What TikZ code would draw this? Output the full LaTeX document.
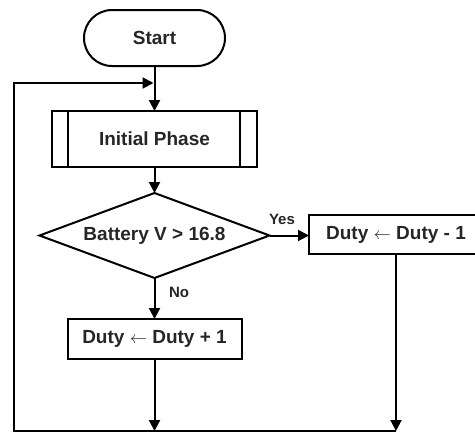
\documentclass[tikz,border=0pt]{standalone}
\usepackage{fontspec}
\setmainfont{Liberation Sans}
\usetikzlibrary{shapes.geometric,arrows.meta}
\begin{document}
\begin{tikzpicture}[x=1pt,y=-1pt,
  every node/.style={inner sep=0pt,outer sep=0pt,font=\fontsize{19}{21}\selectfont\bfseries,text=black!85},
  box/.style={draw,line width=2pt,rectangle},
  lbl/.style={font=\fontsize{15}{16}\selectfont\bfseries},
  conn/.style={line width=2pt},
  arr/.style={line width=2pt,-{Triangle[length=11pt,width=11pt]}}]
\path[use as bounding box,clip] (0,0) rectangle (475,432);
\node[box,rounded corners=28pt,minimum width=141pt,minimum height=56pt] (start) at (154.5,38) {Start};
\node[box,minimum width=205pt,minimum height=56pt] (init) at (154.5,139) {Initial Phase};
\draw[conn] ([xshift=16pt]init.north west) -- ([xshift=16pt]init.south west)
            ([xshift=-17pt]init.north east) -- ([xshift=-17pt]init.south east);
\node[draw,line width=2pt,diamond,aspect=2.7,minimum width=230pt,minimum height=85pt] (dec) at (154.5,235.5) {Battery V > 16.8};
\node[box,minimum width=174pt,minimum height=39pt] (right) at (396,234.5) {Duty $\leftarrow$ Duty - 1};
\node[box,minimum width=174pt,minimum height=40pt] (left) at (154.5,339) {Duty $\leftarrow$ Duty + 1};
\node[lbl] (yes) at (282,219) {Yes};
\node[lbl] (no) at (179,292) {No};
\coordinate (bl) at (14,431);
\coordinate (tl) at (14,83);
\coordinate (join) at (154.5,83);
\draw[arr] (start.south) -- (init.north);
\draw[arr] (init.south) -- (dec.north);
\draw[arr] (dec.east) -- (dec.east -| right.west);
\draw[arr] (dec.south) -- (left.north);
\draw[arr] (left.south) -- (left.south |- bl);
\draw[arr] (right.south) -- (right.south |- bl);
\draw[arr] (right.south |- bl) -- (bl) -- (tl) -- ([xshift=-1pt]join);
\end{tikzpicture}
\end{document}
